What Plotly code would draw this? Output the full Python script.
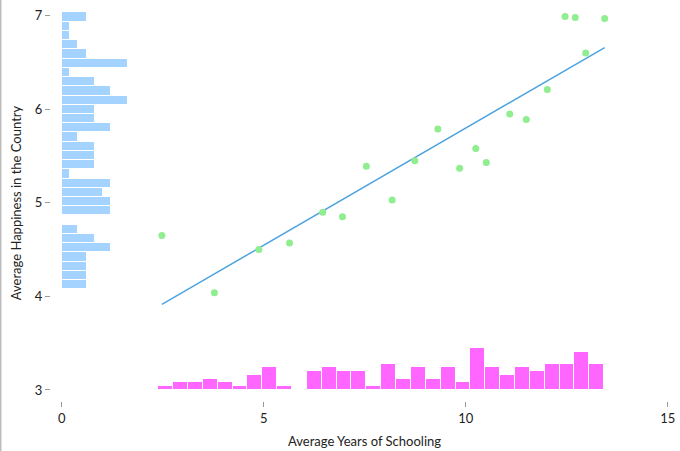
import plotly.graph_objects as go
import numpy as np

# binned country averages (scatter)
schooling = [2.48, 3.78, 4.88, 5.64, 6.46, 6.95, 7.54, 8.18, 8.74, 9.31,
             9.85, 10.25, 10.51, 11.09, 11.50, 12.02, 12.97, 12.46, 12.71, 13.44]
happiness = [4.65, 4.04, 4.50, 4.57, 4.90, 4.85, 5.39, 5.03, 5.45, 5.79,
             5.37, 5.58, 5.43, 5.95, 5.89, 6.21, 6.60, 6.99, 6.98, 6.97]

# histogram of happiness (left margin), 30 bins from the bottom up
happy_bin_start = 4.076
happy_bin_size = 0.0986
happy_counts = [3, 3, 3, 3, 6, 4, 2, 0, 6, 6,
                5, 6, 1, 4, 4, 4, 2, 6, 4, 4,
                8, 6, 4, 1, 8, 3, 2, 1, 1, 3]

# histogram of schooling (bottom margin), 30 bins left to right
school_bin_start = 2.39
school_bin_size = 0.3679
school_counts = [1, 2, 2, 3, 2, 1, 4, 6, 1, 0,
                 5, 6, 5, 5, 1, 7, 3, 6, 3, 6,
                 2, 11, 6, 4, 6, 5, 7, 7, 10, 7]

x_ticks = [0, 5, 10, 15]
y_ticks = [3, 4, 5, 6, 7]

happy_centers = happy_bin_start + happy_bin_size * (np.arange(len(happy_counts)) + 0.5)
school_centers = school_bin_start + school_bin_size * (np.arange(len(school_counts)) + 0.5)

# linear fit through the averages
slope, intercept = np.polyfit(schooling, happiness, 1)
fit_x = np.array([min(schooling), max(schooling)])
fit_y = slope * fit_x + intercept

# axis ranges and how a count maps onto the main axes
x_range = [-0.265, 15.255]
y_range = [2.882, 7.114]
left_unit = 0.205   # x units per country in the left histogram
bottom_unit = 0.0403  # y units per country in the bottom histogram
bottom_base = 3.0

font = dict(family="Lato, 'Open Sans', sans-serif", size=13, color="#222222")

fig = go.Figure()

fig.add_trace(go.Bar(
    x=happy_counts, y=happy_centers,
    orientation='h',
    width=happy_bin_size,
    xaxis='x2', yaxis='y',
    marker=dict(color='rgba(30,144,255,0.4)', line=dict(color='white', width=1)),
    name='happiness'
))

fig.add_trace(go.Bar(
    x=school_centers, y=school_counts,
    width=school_bin_size,
    xaxis='x', yaxis='y2',
    marker=dict(color='#ff66ff', line=dict(color='white', width=1)),
    name='schooling'
))

fig.add_trace(go.Scatter(
    x=fit_x, y=fit_y,
    mode='lines',
    line=dict(color='#4da3e0', width=1.5),
    name='fit'
))

fig.add_trace(go.Scatter(
    x=schooling, y=happiness,
    mode='markers',
    marker=dict(color='#90ee90', size=7),
    name='countries'
))

axis_style = dict(
    showgrid=False, zeroline=False, showline=False,
    ticks='outside', ticklen=5, tickwidth=1, tickcolor='#999999',
    tickfont=font,
)

ml, mr, mt, mb = 51, 2, 5, 50
W, H = 680, 451
pw, ph = W - ml - mr, H - mt - mb

fig.update_layout(
    autosize=False,
    width=W,
    height=H,
    margin=dict(l=ml, r=mr, t=mt, b=mb, pad=0),
    plot_bgcolor='white',
    paper_bgcolor='white',
    showlegend=False,
    bargap=0,
    font=font,
    xaxis=dict(range=x_range, tickvals=x_ticks,
               title=dict(text="Average Years of Schooling", font=font, standoff=12),
               automargin=False, **axis_style),
    yaxis=dict(range=y_range, tickvals=y_ticks,
               title=dict(text="Average Happiness in the Country", font=font, standoff=10),
               automargin=False, **axis_style),
    xaxis2=dict(overlaying='x', visible=False,
                range=[r / left_unit for r in x_range]),
    yaxis2=dict(overlaying='y', visible=False,
                range=[(r - bottom_base) / bottom_unit for r in y_range]),
    shapes=[dict(type='line', xref='paper', yref='paper',
                 x0=(0.7 - ml) / pw, x1=(0.7 - ml) / pw,
                 y0=-mb / ph, y1=(ph + mt) / ph,
                 line=dict(color='#bbbbbb', width=1.5))],
)

# figure fills the window exactly, so drop the page's default body margin
fig.write_html("out.html", config={'displayModeBar': False},
               post_script="document.body.style.margin='0';")
